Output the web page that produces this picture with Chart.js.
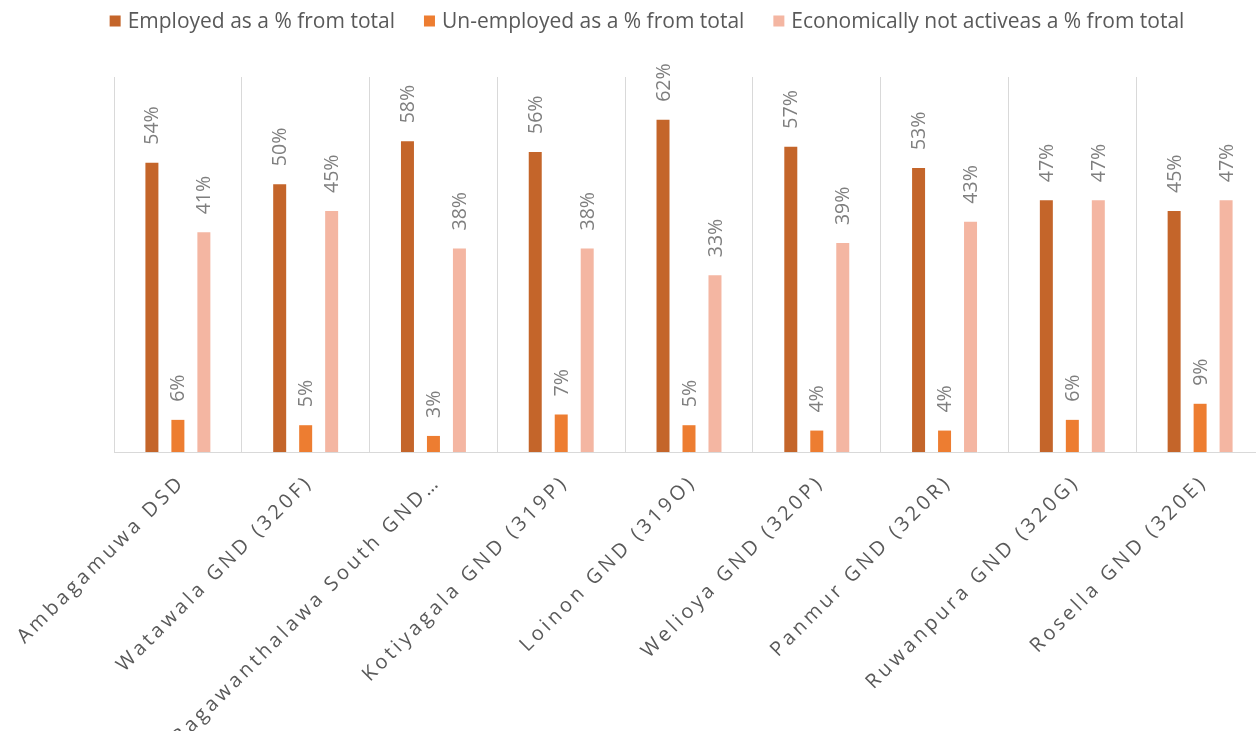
<!DOCTYPE html>
<html>
<head>
<meta charset="utf-8">
<script src="https://cdn.jsdelivr.net/npm/chart.js@4"></script>
<style>
  html, body { margin: 0; padding: 0; background: #fff; overflow: hidden; }
  #wrap { width: 1270px; height: 731px; }
</style>
</head>
<body>
<div id="wrap"><canvas id="chartCanvas"></canvas></div>
<script>
const categories = [
    'Ambagamuwa DSD',
    'Watawala GND (320F)',
    'Bagawanthalawa South GND\u2026',
    'Kotiyagala GND (319P)',
    'Loinon GND (319O)',
    'Welioya GND (320P)',
    'Panmur GND (320R)',
    'Ruwanpura GND (320G)',
    'Rosella GND (320E)'
];
const seriesNames = [
    'Employed as a % from total',
    'Un-employed as a % from total',
    'Economically not activeas a % from total'
];
const employed = [54, 50, 58, 56, 62, 57, 53, 47, 45];
const unemployed = [6, 5, 3, 7, 5, 4, 4, 6, 9];
const notActive = [41, 45, 38, 38, 33, 39, 43, 47, 47];
const seriesColors = ['#C4652A', '#ED7D31', '#F4B6A2'];

const FONT = '"Open Sans", "DejaVu Sans", sans-serif';

// Rotated value labels above each bar
const valueLabels = {
    id: 'valueLabels',
    afterDatasetsDraw(chart) {
        const ctx = chart.ctx;
        ctx.save();
        ctx.font = '19.5px ' + FONT;
        ctx.fillStyle = '#7F7F7F';
        ctx.textAlign = 'left';
        ctx.textBaseline = 'middle';
        chart.data.datasets.forEach((ds, i) => {
            chart.getDatasetMeta(i).data.forEach((bar, j) => {
                ctx.save();
                ctx.translate(bar.x, bar.y - 18);
                ctx.rotate(-Math.PI / 2);
                ctx.fillText(ds.data[j] + '%', 0, 1);
                ctx.restore();
            });
        });
        ctx.restore();
    }
};

// Slanted, letter-spaced category names under the axis
const categoryLabels = {
    id: 'categoryLabels',
    afterDraw(chart) {
        const ctx = chart.ctx;
        const xScale = chart.scales.x;
        const bottom = chart.chartArea.bottom;
        ctx.save();
        ctx.font = '20px ' + FONT;
        ctx.fillStyle = '#595959';
        ctx.letterSpacing = '3.5px';
        ctx.textAlign = 'right';
        ctx.textBaseline = 'middle';
        categories.forEach((name, i) => {
            const x = xScale.getPixelForValue(i);
            ctx.save();
            ctx.translate(x + 4, bottom + 27);
            ctx.rotate(-Math.PI / 4);
            ctx.fillText(name, 0, 0);
            ctx.restore();
        });
        ctx.restore();
    }
};

// Legend row across the top
const topLegend = {
    id: 'topLegend',
    afterDraw(chart) {
        const ctx = chart.ctx;
        const box = 11, textGap = 7, itemGap = 29;
        ctx.save();
        ctx.font = '21px ' + FONT;
        ctx.textBaseline = 'middle';
        ctx.textAlign = 'left';
        const widths = seriesNames.map(n => box + textGap + ctx.measureText(n).width);
        const total = widths.reduce((a, b) => a + b, 0) + itemGap * (widths.length - 1);
        let x = 647 - total / 2;
        const y = 21;
        seriesNames.forEach((n, i) => {
            ctx.fillStyle = seriesColors[i];
            ctx.fillRect(x, y - 5.5, box, box);
            ctx.fillStyle = '#595959';
            ctx.fillText(n, x + box + textGap, y + 1);
            x += widths[i] + itemGap;
        });
        ctx.restore();
    }
};

const datasets = [employed, unemployed, notActive].map((values, i) => ({
    label: seriesNames[i],
    data: values,
    backgroundColor: seriesColors[i],
    borderWidth: 0,
    categoryPercentage: 0.61,
    barPercentage: 0.5
}));

new Chart(document.getElementById('chartCanvas').getContext('2d'), {
    type: 'bar',
    data: { labels: categories, datasets },
    options: {
        responsive: true,
        maintainAspectRatio: false,
        animation: false,
        layout: { padding: { left: 114, right: 6, top: 77, bottom: 279 } },
        plugins: {
            legend: { display: false },
            tooltip: { enabled: false }
        },
        scales: {
            x: {
                offset: true,
                grid: { display: true, offset: true, color: '#D9D9D9', lineWidth: 1, drawTicks: false },
                border: { display: true, color: '#D9D9D9', width: 1 },
                ticks: { display: false }
            },
            y: {
                display: false,
                min: 0,
                max: 70
            }
        }
    },
    plugins: [valueLabels, categoryLabels, topLegend]
});
</script>
</body>
</html>
